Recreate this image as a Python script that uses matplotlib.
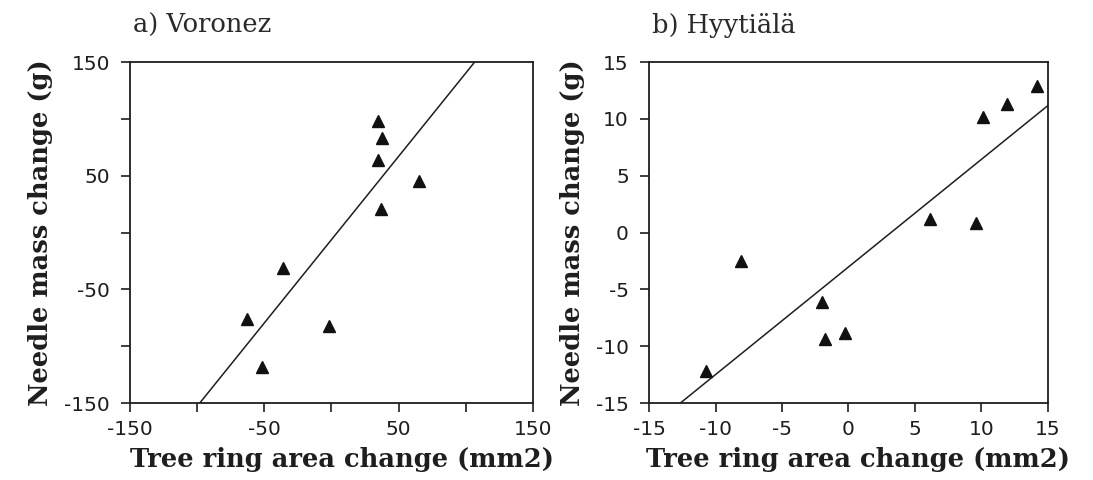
import matplotlib.pyplot as plt
import numpy as np

# Voronez: tree ring area change vs needle mass change
vor_x = [35, 38, 35, 65, 37, -36, -63, -2, -52]
vor_y = [98, 83, 64, 45, 21, -31, -76, -82, -118]
vor_fit = (1.466, -6.3)  # slope, intercept

# Hyytiälä
hyy_x = [14.2, 11.9, 10.1, 6.1, 9.6, -8.1, -2.0, -1.8, -0.3, -10.7]
hyy_y = [12.9, 11.3, 10.2, 1.2, 0.8, -2.5, -6.1, -9.4, -8.8, -12.2]
hyy_fit = (0.947, -3.03)

vor_ticks = [-150, -100, -50, 0, 50, 100, 150]
vor_labels = ['-150', '', '-50', '', '50', '', '150']
hyy_ticks = [-15, -10, -5, 0, 5, 10, 15]

TICK_FONT = 'DejaVu Sans'
LABEL_FONT = 'DejaVu Serif'
INK = '#1e1e1e'

fig = plt.figure(figsize=(10.93, 4.8), dpi=100, facecolor='white')
ax1 = fig.add_axes([0.1189, 0.1604, 0.3687, 0.7104])
ax2 = fig.add_axes([0.5938, 0.1604, 0.3650, 0.7104])


def draw_panel(ax, xs, ys, fit, lim, ticks, xlabels, ylabels, title):
    ax.set_xlim(-lim, lim)
    ax.set_ylim(-lim, lim)
    # regression line across the full x range, clipped by the axes
    xx = np.array([-lim * 1.5, lim * 1.5])
    ax.plot(xx, fit[0] * xx + fit[1], color=INK, lw=1.1, zorder=2)
    ax.plot(xs, ys, linestyle='none', marker='^', markersize=8,
            color='#111111', zorder=3)
    ax.set_xticks(ticks)
    ax.set_yticks(ticks)
    ax.set_xticklabels(xlabels, fontname=TICK_FONT, fontsize=14.5, color=INK)
    ax.set_yticklabels(ylabels, fontname=TICK_FONT, fontsize=14.5, color=INK)
    ax.tick_params(direction='out', length=6.5, width=1.2, colors=INK)
    ax.tick_params(axis='y', pad=8)
    ax.tick_params(axis='x', pad=6)
    for sp in ax.spines.values():
        sp.set_linewidth(1.3)
        sp.set_color(INK)
    ax.set_xlabel('Tree ring area change (mm2)', fontname=LABEL_FONT,
                  fontweight='bold', fontsize=18.5, color=INK)
    ax.xaxis.set_label_coords(0.525, -0.13)
    ax.set_ylabel('Needle mass change (g)', fontname=LABEL_FONT,
                  fontweight='bold', fontsize=18.5, color=INK, labelpad=8)
    ax.text(0.008, 1.07, title, transform=ax.transAxes, fontname=LABEL_FONT,
            fontsize=18.5, color='#2a2a2a', ha='left', va='bottom')


draw_panel(ax1, vor_x, vor_y, vor_fit, 150, vor_ticks, vor_labels,
           vor_labels, 'a) Voronez')
draw_panel(ax2, hyy_x, hyy_y, hyy_fit, 15, hyy_ticks,
           [str(t) for t in hyy_ticks], [str(t) for t in hyy_ticks],
           'b) Hyytiälä')

plt.savefig('out.png', dpi=100)
